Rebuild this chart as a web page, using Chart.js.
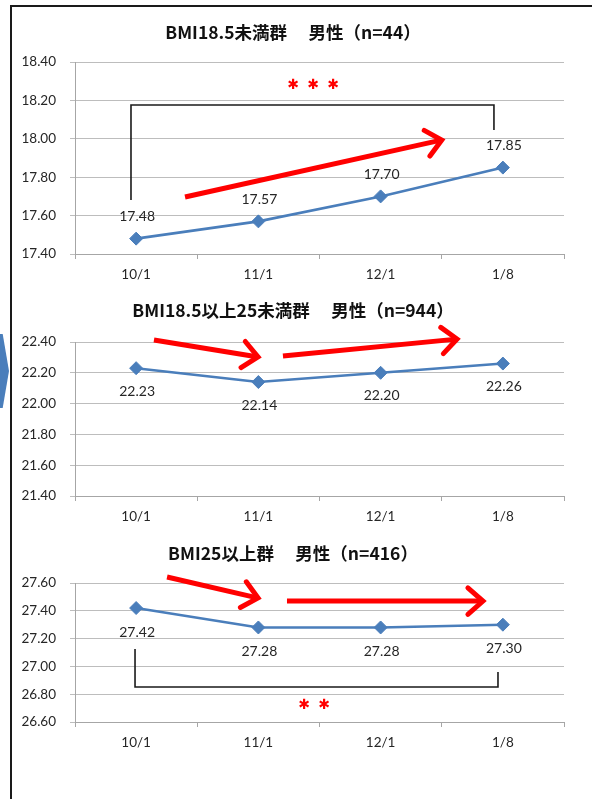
<!DOCTYPE html>
<html>
<head>
<meta charset="utf-8">
<script src="https://cdn.jsdelivr.net/npm/chart.js@4.4.1/dist/chart.umd.min.js"></script>
<style>
  html, body { margin: 0; padding: 0; background: #fff; }
  body { width: 592px; height: 799px; position: relative; overflow: hidden; }
  #frame { position: absolute; left: 10px; top: 5px; width: 620px; height: 820px;
           border-left: 2px solid #1a1a1a; border-top: 2px solid #1a1a1a; }
  #chev { position: absolute; left: 0; top: 334px; width: 9px; height: 74px; background: #4a7ebb;
          clip-path: polygon(0 0, 30% 0, 100% 50%, 30% 100%, 0 100%); }
  .panel { position: absolute; left: 0; width: 592px; }
  canvas { display: block; }
</style>
</head>
<body>
<div id="frame"></div>
<div id="chev"></div>
<div class="panel" style="top:0"><canvas id="under185" width="592" height="290"></canvas></div>
<div class="panel" style="top:290px"><canvas id="normal" width="592" height="242"></canvas></div>
<div class="panel" style="top:532px"><canvas id="over25" width="592" height="226"></canvas></div>
<script>
// Measurement dates (category axis)
const dates = ['10/1', '11/1', '12/1', '1/8'];

// Mean BMI per group at each date
const bmiUnder185 = [17.48, 17.57, 17.70, 17.85];
const bmi185to25  = [22.23, 22.14, 22.20, 22.26];
const bmiOver25   = [27.42, 27.28, 27.28, 27.30];

// Y-axis ranges [min, max] and step
const rangeUnder185 = [17.4, 18.4];
const range185to25  = [21.4, 22.4];
const rangeOver25   = [26.6, 27.6];
const yStep = 0.2;

// Panel titles
const titleUnder185 = 'BMI18.5未満群　 男性（n=44）';
const title185to25  = 'BMI18.5以上25未満群　 男性（n=944）';
const titleOver25   = 'BMI25以上群　 男性（n=416）';

// Trend arrows and significance brackets, in axis units: [category index, BMI]
const trendUnder185 = [[[0.40, 17.697], [2.50, 17.994]]];
const trend185to25  = [[[0.146, 22.413], [0.997, 22.303]], [[1.201, 22.309], [2.625, 22.419]]];
const trendOver25   = [[[0.253, 27.643], [0.997, 27.492]], [[1.234, 27.470], [2.837, 27.470]]];
const bracketUnder185 = [[-0.042, 17.681], [-0.042, 18.176], [2.927, 18.176], [2.927, 18.046]];
const bracketOver25   = [[-0.009, 27.125], [-0.009, 26.852], [2.96, 26.852], [2.96, 26.96]];
const starsUnder185 = { at: [1.447, 18.28], count: 3 };
const starsOver25   = { at: [1.455, 26.722], count: 2 };

const BLUE = '#4a7ebb';
const RED = '#ff0000';
const GRID = '#bdbdbd';
const AXIS = '#a6a6a6';
const TEXT = '#262626';
const tickFont = { family: 'Lato, "Noto Sans", sans-serif', size: 13.5 };

const extras = {};

// Value labels, trend arrows, brackets and stars drawn on top of each panel
const marksPlugin = {
  id: 'marks',
  afterDraw(chart) {
    const ex = extras[chart.canvas.id];
    if (!ex) return;
    const ctx = chart.ctx;
    const xs = chart.scales.x, ys = chart.scales.y;
    const px = p => [xs.getPixelForValue(p[0]), ys.getPixelForValue(p[1])];
    ctx.save();

    // value labels
    const meta = chart.getDatasetMeta(0);
    ctx.font = '14px Lato, "Noto Sans", sans-serif';
    ctx.fillStyle = TEXT;
    ctx.textAlign = 'center';
    ctx.textBaseline = 'middle';
    meta.data.forEach((pt, i) => {
      const v = chart.data.datasets[0].data[i];
      ctx.fillText(v.toFixed(2), pt.x + 1, pt.y + ex.labelOffset);
    });

    // bracket
    if (ex.bracket) {
      ctx.strokeStyle = '#1a1a1a';
      ctx.lineWidth = 1.6;
      ctx.lineJoin = 'miter';
      ctx.beginPath();
      ex.bracket.forEach((p, i) => {
        const [x, y] = px(p);
        if (i === 0) ctx.moveTo(x, y); else ctx.lineTo(x, y);
      });
      ctx.stroke();
    }

    // significance stars
    if (ex.stars) {
      const [cx, cy] = px(ex.stars.at);
      const n = ex.stars.count;
      const gap = 20;
      ctx.fillStyle = RED;
      ctx.font = '14px "DejaVu Sans", sans-serif';
      for (let i = 0; i < n; i++) {
        ctx.fillText('✱', cx + (i - (n - 1) / 2) * gap, cy);
      }
    }

    // trend arrows
    ctx.strokeStyle = RED;
    ctx.lineWidth = 5;
    (ex.trend || []).forEach(seg => {
      const [x0, y0] = px(seg[0]);
      const [x1, y1] = px(seg[1]);
      const ang = Math.atan2(y1 - y0, x1 - x0);
      ctx.lineCap = 'butt';
      ctx.beginPath();
      ctx.moveTo(x0, y0);
      ctx.lineTo(x1 - 3 * Math.cos(ang), y1 - 3 * Math.sin(ang));
      ctx.stroke();
      const hl = 20, ha = 0.72;
      ctx.lineJoin = 'miter';
      ctx.lineCap = 'round';
      ctx.beginPath();
      ctx.moveTo(x1 - hl * Math.cos(ang - ha), y1 - hl * Math.sin(ang - ha));
      ctx.lineTo(x1, y1);
      ctx.lineTo(x1 - hl * Math.cos(ang + ha), y1 - hl * Math.sin(ang + ha));
      ctx.stroke();
    });
    ctx.restore();
  }
};

function panel(id, values, range, title, titlePad, ex) {
  extras[id] = ex;
  return new Chart(document.getElementById(id), {
    type: 'line',
    data: {
      labels: dates,
      datasets: [{
        data: values,
        borderColor: BLUE,
        backgroundColor: BLUE,
        borderWidth: 2.6,
        pointStyle: 'rectRot',
        pointRadius: 6.5,
        pointHoverRadius: 6.5,
        pointBorderWidth: 1,
        tension: 0,
        clip: false
      }]
    },
    options: {
      responsive: false,
      animation: false,
      events: [],
      layout: { padding: { left: 22, right: 28, top: 0, bottom: 0 } },
      plugins: {
        legend: { display: false },
        tooltip: { enabled: false },
        title: {
          display: true,
          text: title,
          color: '#111',
          font: { family: '"Noto Sans CJK JP", sans-serif', size: 17.5, weight: 'bold', lineHeight: 1.2 },
          padding: titlePad
        }
      },
      scales: {
        x: {
          offset: true,
          grid: { offset: true, drawOnChartArea: false, tickLength: 5, color: AXIS },
          border: { color: AXIS, width: 1 },
          ticks: { font: tickFont, color: TEXT, padding: 8, maxRotation: 0 },
          afterFit: s => { s.height = 36; }
        },
        y: {
          min: range[0],
          max: range[1],
          grid: { color: GRID, tickLength: 5 },
          border: { color: AXIS, width: 1 },
          ticks: { stepSize: yStep, font: tickFont, color: TEXT, padding: 14,
                   callback: v => Number(v).toFixed(2) },
          afterFit: s => { s.width = 53; }
        }
      }
    },
    plugins: [marksPlugin]
  });
}

panel('under185', bmiUnder185, rangeUnder185, titleUnder185, { top: 21.5, bottom: 19.5 },
      { labelOffset: -22, trend: trendUnder185, bracket: bracketUnder185, stars: starsUnder185 });
panel('normal', bmi185to25, range185to25, title185to25, { top: 9.5, bottom: 21.5 },
      { labelOffset: 23, trend: trend185to25 });
panel('over25', bmiOver25, rangeOver25, titleOver25, { top: 10.5, bottom: 19.5 },
      { labelOffset: 24, trend: trendOver25, bracket: bracketOver25, stars: starsOver25 });
</script>
</body>
</html>
